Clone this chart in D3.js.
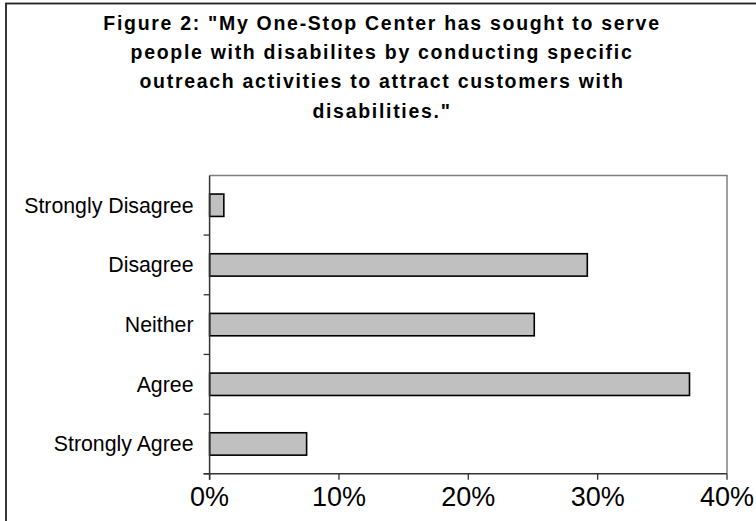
<!DOCTYPE html>
<html><head><meta charset="utf-8">
<script src="https://cdn.jsdelivr.net/npm/d3@7"></script>
<style>html,body{margin:0;padding:0;background:#fff;}svg{display:block;}</style>
</head><body>
<svg id="c" width="756" height="521"></svg>
<script>
const titleLines = ['Figure 2: "My One-Stop Center has sought to serve',
  'people with disabilites by conducting specific',
  'outreach activities to attract customers with',
  'disabilities."'];
const categories = ["Strongly Disagree","Disagree","Neither","Agree","Strongly Agree"];
const values = [1.1, 29.2, 25.1, 37.1, 7.5];
const xTicks = [0, 10, 20, 30, 40];

const svg = d3.select("#c");
const m = {left: 209.6, top: 175.4, right: 727, bottom: 473.8};

// outer frame
svg.append("rect").attr("x", 6).attr("y", 3.5).attr("width", 900).attr("height", 900)
  .attr("fill", "none").attr("stroke", "#222").attr("stroke-width", 1.8);

// title
const t = svg.append("text").attr("font-family", "Liberation Sans, Arial, sans-serif")
  .attr("font-weight", "bold").attr("font-size", 19.5).attr("text-anchor", "middle")
  .attr("letter-spacing", 1.7).attr("fill", "#000");
titleLines.forEach((l, i) => t.append("tspan").attr("x", 382).attr("y", 29.5 + i * 29.4).text(l));

const x = d3.scaleLinear().domain([0, 40]).range([m.left, m.right]);
const y = d3.scaleBand().domain(categories).range([m.top, m.bottom]).paddingInner(0.625).paddingOuter(0.3125);
const yb = d3.scaleBand().domain(categories).range([m.top, m.bottom]);

// plot border (top & right)
svg.append("path").attr("d", `M${m.left},${m.top}H${m.right}V${m.bottom}`)
  .attr("fill", "none").attr("stroke", "#808080").attr("stroke-width", 1.5);

// bars
svg.selectAll("rect.bar").data(values).join("rect").attr("class", "bar")
  .attr("x", x(0)).attr("y", (d, i) => y(categories[i]))
  .attr("width", d => x(d) - x(0)).attr("height", y.bandwidth())
  .attr("fill", "#c0c0c0").attr("stroke", "#000").attr("stroke-width", 1.6);

// y axis
const yAxis = svg.append("g");
yAxis.append("line").attr("x1", m.left).attr("x2", m.left).attr("y1", m.top).attr("y2", m.bottom + 6)
  .attr("stroke", "#333").attr("stroke-width", 1.5);
yAxis.selectAll("line.t").data(categories).join("line").attr("class", "t")
  .attr("x1", m.left - 6).attr("x2", m.left)
  .attr("y1", d => yb(d) + yb.bandwidth()).attr("y2", d => yb(d) + yb.bandwidth())
  .attr("stroke", "#333").attr("stroke-width", 1.3);
yAxis.selectAll("text").data(categories).join("text")
  .attr("x", 193.5).attr("y", d => yb(d) + yb.bandwidth() / 2 + 7.5)
  .attr("text-anchor", "end").attr("font-family", "Liberation Sans, Arial, sans-serif")
  .attr("font-size", 21.3).attr("fill", "#000").text(d => d);

// x axis
const xAxis = svg.append("g");
xAxis.append("line").attr("x1", m.left - 6).attr("x2", m.right).attr("y1", m.bottom).attr("y2", m.bottom)
  .attr("stroke", "#333").attr("stroke-width", 1.5);
xAxis.selectAll("line.t").data(xTicks).join("line").attr("class", "t")
  .attr("x1", d => x(d)).attr("x2", d => x(d)).attr("y1", m.bottom).attr("y2", m.bottom + 6)
  .attr("stroke", "#333").attr("stroke-width", 1.3);
xAxis.selectAll("text").data(xTicks).join("text")
  .attr("x", d => x(d)).attr("y", 505.5)
  .attr("text-anchor", "middle").attr("font-family", "Liberation Sans, Arial, sans-serif")
  .attr("font-size", 27).attr("fill", "#000").text(d => d + "%");
</script>
</body></html>
